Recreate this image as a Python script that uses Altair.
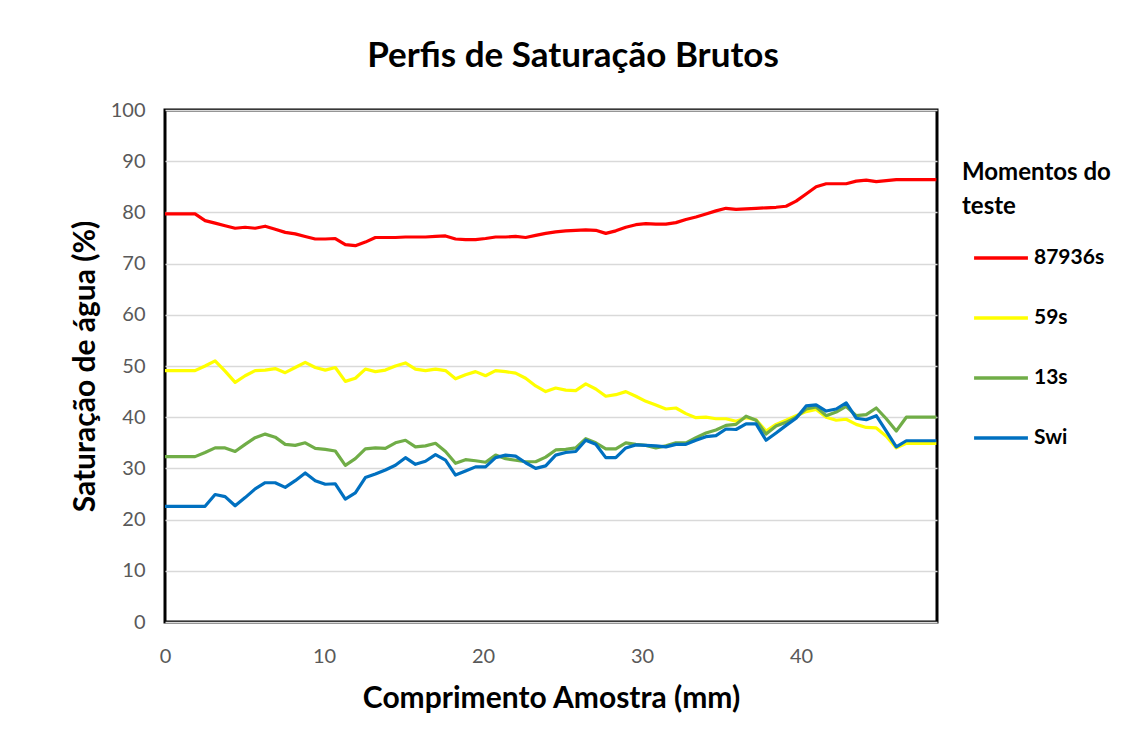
import altair as alt
import pandas as pd

x_mm = [0.00, 0.63, 1.26, 1.89, 2.52, 3.15, 3.78, 4.41, 5.04, 5.67,
        6.30, 6.93, 7.56, 8.19, 8.82, 9.45, 10.08, 10.71, 11.34, 11.97,
        12.60, 13.23, 13.86, 14.49, 15.12, 15.75, 16.38, 17.01, 17.64, 18.27,
        18.90, 19.53, 20.16, 20.79, 21.42, 22.05, 22.68, 23.31, 23.94, 24.57,
        25.20, 25.83, 26.46, 27.09, 27.72, 28.35, 28.98, 29.61, 30.24, 30.87,
        31.50, 32.13, 32.76, 33.39, 34.02, 34.65, 35.28, 35.91, 36.54, 37.17,
        37.80, 38.43, 39.06, 39.69, 40.32, 40.95, 41.58, 42.21, 42.84, 43.47,
        44.10, 44.73, 45.36, 45.99, 46.62, 47.25, 47.88, 48.51]

s_87936 = [79.7, 79.7, 79.7, 79.7, 78.4, 77.9, 77.4, 76.9, 77.1, 76.9,
           77.3, 76.7, 76.1, 75.8, 75.3, 74.8, 74.8, 74.9, 73.7, 73.5,
           74.2, 75.1, 75.1, 75.1, 75.2, 75.2, 75.2, 75.3, 75.4, 74.8,
           74.7, 74.7, 74.9, 75.2, 75.2, 75.3, 75.1, 75.5, 75.9, 76.2,
           76.4, 76.5, 76.6, 76.5, 75.9, 76.4, 77.1, 77.6, 77.8, 77.7,
           77.7, 78.0, 78.6, 79.1, 79.7, 80.3, 80.8, 80.6, 80.7, 80.8,
           80.9, 81.0, 81.2, 82.2, 83.6, 85.0, 85.6, 85.6, 85.6, 86.1,
           86.3, 86.0, 86.2, 86.4, 86.4, 86.4, 86.4, 86.4]

s_59 = [49.1, 49.1, 49.1, 49.1, 50.0, 51.0, 49.0, 46.8, 48.1, 49.1,
        49.2, 49.5, 48.7, 49.7, 50.7, 49.7, 49.2, 49.7, 47.0, 47.6,
        49.4, 48.9, 49.2, 50.0, 50.6, 49.4, 49.1, 49.4, 49.1, 47.5,
        48.3, 48.9, 48.1, 49.1, 48.9, 48.6, 47.6, 46.1, 45.0, 45.7,
        45.3, 45.2, 46.5, 45.5, 44.1, 44.4, 45.0, 44.1, 43.1, 42.4,
        41.6, 41.8, 40.7, 39.9, 40.0, 39.7, 39.7, 39.2, 39.9, 39.5,
        37.3, 38.6, 39.4, 40.3, 41.1, 41.5, 40.0, 39.4, 39.6, 38.6,
        38.0, 37.9, 36.3, 34.0, 34.9, 34.9, 34.9, 34.9]

s_13 = [32.3, 32.3, 32.3, 32.3, 33.1, 34.0, 34.0, 33.3, 34.7, 36.0,
        36.7, 36.1, 34.7, 34.5, 35.0, 33.9, 33.7, 33.4, 30.6, 31.9,
        33.8, 34.0, 33.9, 35.0, 35.5, 34.2, 34.4, 34.9, 33.3, 31.0,
        31.7, 31.5, 31.2, 32.6, 31.9, 31.6, 31.3, 31.3, 32.2, 33.6,
        33.7, 34.0, 35.8, 35.0, 33.8, 33.8, 35.0, 34.7, 34.5, 34.0,
        34.4, 35.0, 35.0, 36.0, 36.9, 37.5, 38.4, 38.6, 40.2, 39.4,
        36.7, 38.3, 39.0, 40.0, 41.6, 42.0, 40.3, 41.0, 42.1, 40.3,
        40.5, 41.8, 39.7, 37.3, 40.0, 40.0, 40.0, 40.0]

s_swi = [22.6, 22.6, 22.6, 22.6, 22.6, 24.9, 24.5, 22.7, 24.3, 26.0,
         27.2, 27.2, 26.3, 27.6, 29.1, 27.6, 26.9, 27.0, 24.0, 25.2,
         28.2, 28.9, 29.7, 30.6, 32.1, 30.8, 31.4, 32.7, 31.6, 28.7,
         29.5, 30.3, 30.3, 32.1, 32.6, 32.4, 31.1, 30.0, 30.5, 32.6,
         33.1, 33.3, 35.5, 34.7, 32.1, 32.1, 34.0, 34.6, 34.5, 34.4,
         34.2, 34.7, 34.7, 35.5, 36.2, 36.4, 37.7, 37.6, 38.7, 38.7,
         35.5, 36.9, 38.4, 39.8, 42.2, 42.4, 41.2, 41.6, 42.8, 39.8,
         39.5, 40.3, 37.3, 34.2, 35.4, 35.4, 35.4, 35.4]

series_names = ["87936s", "59s", "13s", "Swi"]
series_colors = ["#FF0000", "#FFFF00", "#70AD47", "#0070C0"]
x_ticks = [0, 10, 20, 30, 40]
y_ticks = [0, 10, 20, 30, 40, 50, 60, 70, 80, 90, 100]

FONT = "Lato"

color_enc = alt.Color(
    "serie:N",
    scale=alt.Scale(domain=series_names, range=series_colors),
    legend=alt.Legend(
        title=["Momentos do", "teste"],
        orient="none",
        legendX=797,
        legendY=51,
        titleFont=FONT,
        titleFontSize=24,
        titleFontWeight="bold",
        titleColor="#000000",
        titleLineHeight=34,
        titlePadding=10,
        labelFont=FONT,
        labelFontSize=21,
        labelFontWeight="bold",
        labelColor="#000000",
        symbolType="stroke",
        symbolSize=2900,
        symbolStrokeWidth=3.5,
        symbolOffset=10,
        rowPadding=21,
        labelOffset=4,
        padding=0,
    ),
)

x_enc = alt.X(
    "x:Q",
    scale=alt.Scale(domain=[0, 48.55], nice=False),
    axis=alt.Axis(
        values=x_ticks,
        title="Comprimento Amostra (mm)",
        titleFont=FONT, titleFontSize=30, titleFontWeight="bold",
        titleColor="#000000", titlePadding=17,
        labelFont=FONT, labelFontSize=20, labelColor="#595959",
        labelPadding=24, labelFlush=False,
        ticks=False, domain=False, grid=False,
    ),
)

y_enc = alt.Y(
    "v:Q",
    scale=alt.Scale(domain=[0, 100], nice=False),
    axis=alt.Axis(
        values=y_ticks,
        title="Saturação de água (%)",
        titleFont=FONT, titleFontSize=30, titleFontWeight="bold",
        titleColor="#000000", titlePadding=10,
        labelFont=FONT, labelFontSize=20, labelColor="#595959",
        labelPadding=20, labelFlush=False,
        ticks=False, domain=False,
        grid=True, gridColor="#D9D9D9", gridWidth=1.5,
    ),
)

layers = []
for name, vals in zip(series_names, [s_87936, s_59, s_13, s_swi]):
    df = pd.DataFrame({"x": x_mm, "v": vals, "serie": name})
    layers.append(
        alt.Chart(df).mark_line(strokeWidth=3.2, strokeJoin="round").encode(
            x=x_enc, y=y_enc, color=color_enc
        )
    )

chart = (
    alt.layer(*layers)
    .properties(
        width=772,
        height=512,
        autosize="none",
        padding={"left": 157, "top": 102, "right": 187, "bottom": 115},
        title=alt.TitleParams(
            "Perfis de Saturação Brutos",
            font=FONT, fontSize=35, fontWeight="bold", color="#000000",
            anchor="middle", offset=26, dx=22,
        ),
        background="#FFFFFF",
    )
    .configure_view(stroke="#000000", strokeWidth=3)
)

chart.save("out.html", embed_options={"renderer": "svg", "actions": False})
